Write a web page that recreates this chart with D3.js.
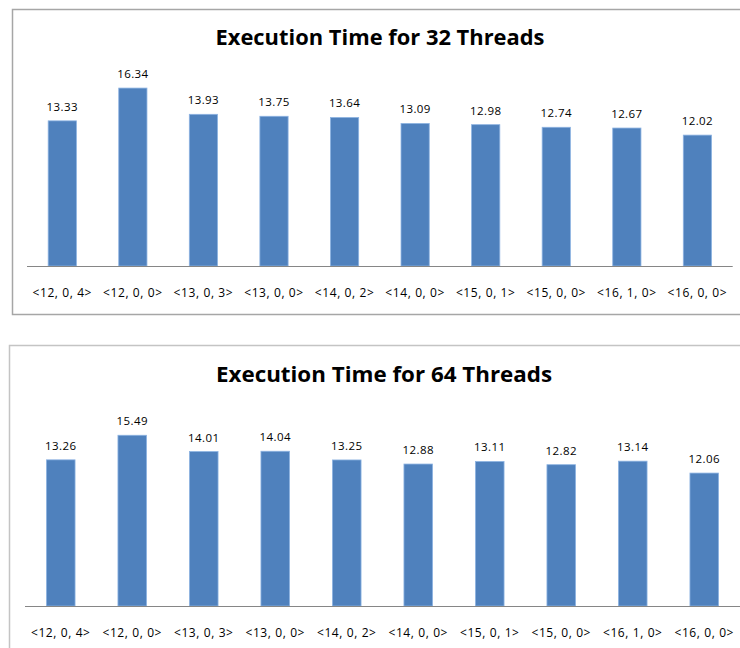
<!DOCTYPE html>
<html>
<head>
<meta charset="utf-8">
<script src="https://cdn.jsdelivr.net/npm/d3@7"></script>
<style>
  html, body { margin: 0; padding: 0; background: #fff; }
  svg { display: block; }
</style>
</head>
<body>
<svg id="chart" width="740" height="648"></svg>
<script>
// Configurations <L1 size, L2 fill, L2 prefetch> measured for two thread counts
const categories = ["<12, 0, 4>", "<12, 0, 0>", "<13, 0, 3>", "<13, 0, 0>", "<14, 0, 2>",
                    "<14, 0, 0>", "<15, 0, 1>", "<15, 0, 0>", "<16, 1, 0>", "<16, 0, 0>"];
const times32 = [13.33, 16.34, 13.93, 13.75, 13.64, 13.09, 12.98, 12.74, 12.67, 12.02];
const times64 = [13.26, 15.49, 14.01, 14.04, 13.25, 12.88, 13.11, 12.82, 13.14, 12.06];
const yTicks = [0, 18];

const svg = d3.select("#chart");

const panels = [
  { title: "Execution Time for 32 Threads", values: times32,
    frame: { x: 12, y: 9, w: 740, h: 305, stroke: "#a6a6a6" },
    x0: 27, x1: 732.7, axisY: 266, topY: 70, titleX: 380, titleY: 44.5, titleW: 329 },
  { title: "Execution Time for 64 Threads", values: times64,
    frame: { x: 9, y: 345, w: 740, h: 320, stroke: "#c4c4c4" },
    x0: 25, x1: 740, axisY: 606, topY: 407.6, titleX: 384, titleY: 381.5, titleW: 336 }
];

panels.forEach(p => {
  const g = svg.append("g");

  // chart area border
  g.append("rect")
    .attr("x", p.frame.x + 0.5).attr("y", p.frame.y + 0.5)
    .attr("width", p.frame.w).attr("height", p.frame.h)
    .attr("fill", "#fff")
    .attr("stroke", p.frame.stroke)
    .attr("stroke-width", 1.5);

  const x = d3.scaleBand()
    .domain(categories)
    .range([p.x0, p.x1])
    .paddingInner(0.6)
    .paddingOuter(0.3);

  const y = d3.scaleLinear()
    .domain(d3.extent(yTicks))
    .range([p.axisY, p.topY]);

  const data = categories.map((c, i) => ({ c, v: p.values[i] }));

  // bars
  g.selectAll("rect.bar")
    .data(data)
    .join("rect")
    .attr("class", "bar")
    .attr("x", d => x(d.c))
    .attr("y", d => y(d.v))
    .attr("width", x.bandwidth())
    .attr("height", d => y(0) - y(d.v))
    .attr("fill", "#4f81bd")
    .attr("stroke", "#8db3e2")
    .attr("stroke-width", 0.8);

  // value labels
  g.selectAll("text.val")
    .data(data)
    .join("text")
    .attr("class", "val")
    .attr("x", d => x(d.c) + x.bandwidth() / 2)
    .attr("y", d => y(d.v) - 10)
    .attr("text-anchor", "middle")
    .attr("font-family", "'Open Sans', sans-serif")
    .attr("font-size", 11.5)
    .attr("letter-spacing", 0.4)
    .attr("fill", "#000")
    .text(d => d.v.toFixed(2));

  // category axis
  const axis = g.append("g")
    .attr("transform", `translate(0,${p.axisY})`)
    .call(d3.axisBottom(x).tickSize(0).tickPadding(22));
  axis.select(".domain")
    .attr("stroke", "#868686")
    .attr("stroke-width", 1.2)
    .attr("d", `M${p.x0},0.5H${p.x1}`);
  axis.selectAll("text")
    .attr("font-family", "'Open Sans', sans-serif")
    .attr("font-size", 12)
    .attr("letter-spacing", 0.6)
    .attr("fill", "#000");

  // title
  g.append("text")
    .attr("x", p.titleX)
    .attr("y", p.titleY)
    .attr("text-anchor", "middle")
    .attr("font-family", "'Open Sans', sans-serif")
    .attr("font-weight", "bold")
    .attr("font-size", 21)
    .attr("textLength", p.titleW)
    .attr("lengthAdjust", "spacingAndGlyphs")
    .attr("fill", "#000")
    .text(p.title);
});
</script>
</body>
</html>
